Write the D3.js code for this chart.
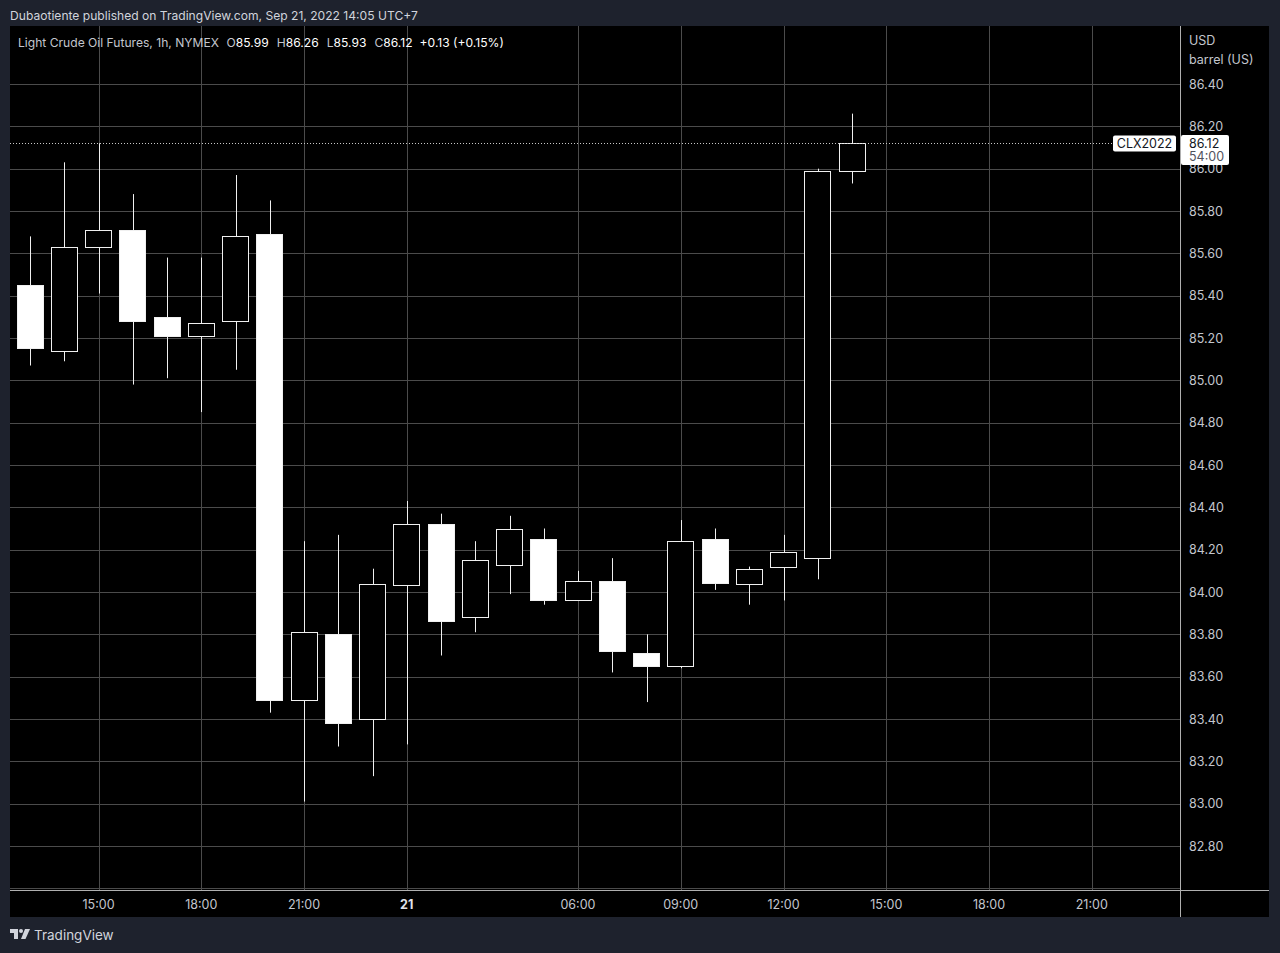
<!DOCTYPE html>
<html>
<head>
<meta charset="utf-8">
<script src="https://cdn.jsdelivr.net/npm/d3@7"></script>
<style>
  html, body { margin: 0; padding: 0; background: #1e222d; }
  svg { display: block; }
  text { font-family: Inter, "Noto Sans", "DejaVu Sans", sans-serif; }
</style>
</head>
<body>
<svg id="chart" width="1280" height="953"></svg>
<script>
// ---- Data ----
const times = ["09-20 13:00","09-20 14:00","09-20 15:00","09-20 16:00","09-20 17:00","09-20 18:00",
  "09-20 19:00","09-20 20:00","09-20 21:00","09-20 22:00","09-20 23:00","09-21 00:00","09-21 01:00",
  "09-21 02:00","09-21 03:00","09-21 05:00","09-21 06:00","09-21 07:00","09-21 08:00","09-21 09:00",
  "09-21 10:00","09-21 11:00","09-21 12:00","09-21 13:00","09-21 14:00"];
const opens  = [85.45,85.14,85.63,85.71,85.30,85.21,85.28,85.69,83.49,83.80,83.40,84.03,84.32,83.88,84.13,84.25,83.96,84.05,83.71,83.65,84.25,84.04,84.12,84.16,85.99];
const highs  = [85.68,86.03,86.12,85.88,85.58,85.58,85.97,85.85,84.24,84.27,84.11,84.43,84.37,84.24,84.36,84.30,84.10,84.16,83.80,84.34,84.30,84.12,84.27,86.00,86.26];
const lows   = [85.07,85.09,85.41,84.98,85.01,84.85,85.05,83.43,83.01,83.27,83.13,83.28,83.70,83.81,83.99,83.94,83.96,83.62,83.48,83.64,84.01,83.94,83.96,84.06,85.93];
const closes = [85.15,85.63,85.71,85.28,85.21,85.27,85.68,83.49,83.81,83.38,84.04,84.32,83.86,84.15,84.30,83.96,84.05,83.72,83.65,84.24,84.04,84.11,84.19,85.99,86.12];

const priceTicks = [86.40,86.20,86.00,85.80,85.60,85.40,85.20,85.00,84.80,84.60,84.40,84.20,84.00,83.80,83.60,83.40,83.20,83.00,82.80];
const gridPrices = priceTicks.concat([82.60]);
const timeTickLabels = ["15:00","18:00","21:00","21","06:00","09:00","12:00","15:00","18:00","21:00"];
const timeTickTimes  = ["09-20 15:00","09-20 18:00","09-20 21:00","09-21 00:00","09-21 06:00","09-21 09:00","09-21 12:00","09-21 15:00","09-21 18:00","09-21 21:00"];
const boldTicks = ["21"];

const headerText = "Dubaotiente published on TradingView.com, Sep 21, 2022 14:05 UTC+7";
const symbolTitle = "Light Crude Oil Futures, 1h, NYMEX";
const lastIdx = times.length - 1;
const lastChange = "+0.13 (+0.15%)";
const symbolCode = "CLX2022";
const countdown = "54:00";

// ---- Layout ----
const svg = d3.select("#chart");
const panel = {left: 10, top: 26, right: 1269, bottom: 917};
const plotRight = 1180, plotBottom = 890;

function indexOf(t) {
  const i = times.indexOf(t);
  if (i >= 0) return i;
  const last = times[lastIdx];
  const hLast = +last.slice(6, 8), hT = +t.slice(6, 8);
  return lastIdx + (hT - hLast);
}

const x = d3.scaleLinear().domain([0, lastIdx]).range([30, 852]);
const y = d3.scaleLinear().domain([86.40, 82.80]).range([84, 846]);
const bodyW = 27;

svg.append("rect").attr("x", panel.left).attr("y", panel.top)
  .attr("width", panel.right - panel.left).attr("height", panel.bottom - panel.top)
  .attr("fill", "#000");

// header
svg.append("text").attr("x", 10).attr("y", 20).attr("fill", "#d1d4dc")
  .attr("font-size", 12.1).text(headerText);

// grid
const grid = svg.append("g").attr("stroke", "#4b4b4b").attr("stroke-width", 1);
grid.selectAll("line.h").data(gridPrices).join("line")
  .attr("x1", panel.left).attr("x2", plotRight)
  .attr("y1", d => Math.round(y(d)) + 0.5).attr("y2", d => Math.round(y(d)) + 0.5);
grid.selectAll("line.v").data(timeTickTimes).join("line")
  .attr("y1", panel.top).attr("y2", plotBottom)
  .attr("x1", d => Math.round(x(indexOf(d))) + 0.5).attr("x2", d => Math.round(x(indexOf(d))) + 0.5);

svg.append("line").attr("x1", panel.left).attr("x2", panel.right)
  .attr("y1", plotBottom + 0.5).attr("y2", plotBottom + 0.5).attr("stroke", "#b0b0b0");
svg.append("line").attr("x1", plotRight + 0.5).attr("x2", plotRight + 0.5)
  .attr("y1", panel.top).attr("y2", panel.bottom).attr("stroke", "#b0b0b0");

// legend
const leg = svg.append("text").attr("x", 18).attr("y", 47).attr("font-size", 12.1);
leg.append("tspan").attr("fill", "#c3c6ce").text(symbolTitle);
[["O", opens[lastIdx]], ["H", highs[lastIdx]], ["L", lows[lastIdx]], ["C", closes[lastIdx]]].forEach(([k, v]) => {
  leg.append("tspan").attr("dx", 8).attr("fill", "#c3c6ce").text(k);
  leg.append("tspan").attr("fill", "#ffffff").text(d3.format(".2f")(v));
});
leg.append("tspan").attr("dx", 7).attr("fill", "#ffffff").text(lastChange);

// price axis labels
const pa = svg.append("g").attr("font-size", 12.5).attr("fill", "#c3c6ce");
pa.append("text").attr("x", 1189).attr("y", 45).text("USD");
pa.append("text").attr("x", 1189).attr("y", 64).text("barrel (US)");
pa.selectAll("text.p").data(priceTicks).join("text")
  .attr("x", 1189).attr("y", d => y(d) + 4.5).text(d => d3.format(".2f")(d));

// time axis labels
svg.append("g").selectAll("text").data(timeTickTimes).join("text")
  .attr("x", d => x(indexOf(d))).attr("y", 909).attr("text-anchor", "middle")
  .attr("font-size", 12.5)
  .attr("font-weight", (d, i) => boldTicks.includes(timeTickLabels[i]) ? "bold" : "normal")
  .attr("fill", (d, i) => boldTicks.includes(timeTickLabels[i]) ? "#e0e3eb" : "#c3c6ce")
  .text((d, i) => timeTickLabels[i]);

// candles
const candles = svg.append("g");
const idx = d3.range(times.length);
candles.selectAll("line.wick").data(idx).join("line")
  .attr("x1", i => Math.round(x(i)) + 0.5).attr("x2", i => Math.round(x(i)) + 0.5)
  .attr("y1", i => y(highs[i])).attr("y2", i => y(lows[i]))
  .attr("stroke", "#f0f0f0").attr("stroke-width", 1);
candles.selectAll("rect.body").data(idx).join("rect")
  .attr("x", i => Math.round(x(i) - bodyW / 2) + 0.5)
  .attr("y", i => Math.round(y(Math.max(opens[i], closes[i]))) + 0.5)
  .attr("width", bodyW - 1)
  .attr("height", i => Math.max(1, Math.round(Math.abs(y(opens[i]) - y(closes[i])))))
  .attr("fill", i => closes[i] >= opens[i] ? "#000" : "#ffffff")
  .attr("stroke", "#f0f0f0").attr("stroke-width", 1);

// last price dotted line
const yLast = Math.round(y(closes[lastIdx])) + 0.5;
svg.append("line").attr("x1", panel.left).attr("x2", 1113).attr("y1", yLast).attr("y2", yLast)
  .attr("stroke", "#c8c8c8").attr("stroke-dasharray", "1,2");

// symbol label
svg.append("rect").attr("x", 1113).attr("y", 135.5).attr("width", 63).attr("height", 16)
  .attr("rx", 2).attr("fill", "#ffffff");
svg.append("text").attr("x", 1144.5).attr("y", 148).attr("text-anchor", "middle")
  .attr("font-size", 12.5).attr("fill", "#131722").text(symbolCode);

// price label (covers the top of the 86.00 tick label, as in the original)
svg.append("rect").attr("x", 1181).attr("y", 135).attr("width", 48).attr("height", 30)
  .attr("rx", 2).attr("fill", "#ffffff");
svg.append("text").attr("x", 1189).attr("y", 147.5).attr("font-size", 12.5)
  .attr("fill", "#131722").text(d3.format(".2f")(closes[lastIdx]));
svg.append("text").attr("x", 1189).attr("y", 161).attr("font-size", 12.5)
  .attr("fill", "#50535e").text(countdown);

// footer logo
const logo = svg.append("g").attr("transform", "translate(10,929)").attr("fill", "#d1d4dc");
logo.append("path").attr("d", "M0,0 H8 V10 H4 V4 H0 Z");
logo.append("circle").attr("cx", 11).attr("cy", 2).attr("r", 2);
logo.append("path").attr("d", "M15,0 H20 L15.5,10 H11 Z");
svg.append("text").attr("x", 34).attr("y", 940).attr("font-size", 13.5)
  .attr("fill", "#d1d4dc").text("TradingView");
</script>
</body>
</html>
